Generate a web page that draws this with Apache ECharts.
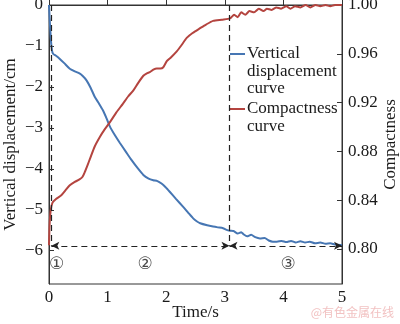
<!DOCTYPE html>
<html>
<head>
<meta charset="utf-8">
<script src="https://cdn.jsdelivr.net/npm/echarts@6/dist/echarts.min.js"></script>
<style>html,body{margin:0;padding:0;background:#fff}#c{width:400px;height:324px}</style>
</head>
<body>
<div id="c"></div>
<script>
// ---- data ----
var displacement = [[0,0],[0.01,-0.3],[0.03,-0.8],[0.05,-1.1],[0.07,-1.19],[0.12,-1.24],[0.18,-1.31],[0.26,-1.42],[0.35,-1.55],[0.44,-1.62],[0.52,-1.67],[0.58,-1.74],[0.64,-1.84],[0.71,-2.02],[0.78,-2.24],[0.85,-2.40],[0.92,-2.57],[0.98,-2.76],[1.04,-2.97],[1.12,-3.17],[1.21,-3.37],[1.31,-3.58],[1.41,-3.79],[1.51,-3.98],[1.61,-4.15],[1.70,-4.24],[1.78,-4.28],[1.85,-4.30],[1.92,-4.36],[1.99,-4.45],[2.06,-4.56],[2.17,-4.74],[2.29,-4.93],[2.38,-5.08],[2.46,-5.21],[2.52,-5.28],[2.58,-5.33],[2.70,-5.38],[2.80,-5.41],[2.88,-5.43],[2.97,-5.45],[3.03,-5.49],[3.09,-5.51],[3.15,-5.52],[3.22,-5.58],[3.28,-5.55],[3.32,-5.60],[3.38,-5.65],[3.45,-5.61],[3.52,-5.67],[3.60,-5.70],[3.68,-5.69],[3.75,-5.75],[3.82,-5.78],[3.89,-5.78],[3.97,-5.76],[4.05,-5.79],[4.13,-5.76],[4.21,-5.80],[4.29,-5.77],[4.37,-5.80],[4.45,-5.78],[4.54,-5.82],[4.63,-5.80],[4.72,-5.83],[4.80,-5.82],[4.88,-5.85],[4.97,-5.86],[5.0,-5.86]];
var compactness = [[0,0.803],[0.01,0.82],[0.03,0.832],[0.06,0.838],[0.12,0.841],[0.21,0.844],[0.28,0.848],[0.35,0.852],[0.44,0.855],[0.52,0.857],[0.57,0.859],[0.61,0.863],[0.66,0.869],[0.70,0.874],[0.78,0.884],[0.87,0.892],[0.95,0.898],[1.04,0.904],[1.15,0.912],[1.26,0.919],[1.35,0.925],[1.44,0.930],[1.52,0.936],[1.61,0.942],[1.67,0.944],[1.72,0.945],[1.78,0.947],[1.84,0.948],[1.90,0.948],[1.95,0.949],[2.01,0.954],[2.08,0.957],[2.18,0.962],[2.26,0.967],[2.35,0.973],[2.45,0.977],[2.58,0.981],[2.68,0.984],[2.80,0.987],[2.95,0.988],[3.09,0.989],[3.16,0.992],[3.22,0.990],[3.28,0.994],[3.35,0.992],[3.42,0.995],[3.50,0.994],[3.58,0.997],[3.66,0.995],[3.72,0.997],[3.80,0.996],[3.88,0.998],[3.96,0.997],[4.05,0.999],[4.12,0.997],[4.20,0.999],[4.29,0.998],[4.38,1.0],[4.46,0.998],[4.55,1.0],[4.63,0.999],[4.72,1.0],[4.80,0.999],[4.88,1.0],[4.97,1.0],[5.0,1.0]];
var xTicks = [0,1,2,3,4,5];
var leftTicks = [0,-1,-2,-3,-4,-5,-6];
var rightTicks = [0.80,0.84,0.88,0.92,0.96,1.00];
var phaseBounds = [0.04, 3.08];      // vertical dashed lines (time, s)
var baseLevel = -5.88;               // horizontal dashed line (cm)
var phaseLabels = ['①','②','③'];
var phaseLabelPos = [[0.13,-6.35],[1.64,-6.35],[4.08,-6.35]];
var seriesNames = ['Vertical displacement curve','Compactness curve'];

// ---- chart ----
var FONT = "'Liberation Serif','Times New Roman',serif";
var TXT = '#1a1a1a';
var BLUE = '#4676b3', RED = '#b4443f';
var chart = echarts.init(document.getElementById('c'), null, {renderer:'canvas'});
function minus(v){ return String(v).replace('-', '\u2212'); }
function tick(vals){ return {show:true,inside:true,length:5,lineStyle:{color:'#333'},customValues:vals}; }
var axLine = {show:true,lineStyle:{color:'#333',width:1}};
var option = {
  animation:false,
  backgroundColor:'#fff',
  grid:{left:49,right:58,top:5,bottom:40,show:true,borderColor:'#333',borderWidth:1,
    containLabel:false,outerBoundsMode:'none'},
  xAxis:{type:'value',min:0,max:5,
    name:'Time/s',nameLocation:'middle',nameGap:20,nameMoveOverlap:false,
    nameTextStyle:{fontFamily:FONT,fontSize:17,color:TXT},
    axisLine:axLine,axisTick:tick(xTicks),splitLine:{show:false},
    axisLabel:{fontFamily:FONT,fontSize:17,color:TXT,margin:5,customValues:xTicks}},
  yAxis:[
    {type:'value',min:-6.813,max:0,position:'left',
      name:'Vertical displacement/cm',nameLocation:'middle',nameGap:30,nameMoveOverlap:false,
      nameTextStyle:{fontFamily:FONT,fontSize:17,color:TXT},
      axisLine:axLine,axisTick:tick(leftTicks),splitLine:{show:false},
      axisLabel:{fontFamily:FONT,fontSize:17,color:TXT,margin:6,customValues:leftTicks,formatter:function(v){return minus(v);}}},
    {type:'value',min:0.7713,max:1.0,position:'right',
      name:'Compactness',nameLocation:'middle',nameGap:40,nameMoveOverlap:false,
      nameTextStyle:{fontFamily:FONT,fontSize:17,color:TXT},
      axisLine:axLine,axisTick:tick(rightTicks),splitLine:{show:false},
      axisLabel:{fontFamily:FONT,fontSize:17,color:TXT,margin:6,customValues:rightTicks,formatter:function(v){return v.toFixed(2);}}}
  ],
  series:[
    {name:seriesNames[0],type:'line',yAxisIndex:0,data:displacement,showSymbol:false,smooth:0.2,
      lineStyle:{color:BLUE,width:2},itemStyle:{color:BLUE},z:3,
      markLine:{silent:true,symbol:['none','none'],label:{show:false},
        lineStyle:{type:[6,4],color:'#222',width:1.2},
        data:[
          [{coord:[phaseBounds[0],0]},{coord:[phaseBounds[0],baseLevel]}],
          [{coord:[phaseBounds[1],0]},{coord:[phaseBounds[1],baseLevel]}],
          [{coord:[phaseBounds[0],baseLevel],symbol:'arrow',symbolSize:[6,8]},{coord:[phaseBounds[1],baseLevel],symbol:'arrow',symbolSize:[6,8]}],
          [{coord:[phaseBounds[1],baseLevel],symbol:'arrow',symbolSize:[6,8]},{coord:[5,baseLevel],symbol:'arrow',symbolSize:[6,8]}]
        ]}},
    {name:seriesNames[1],type:'line',yAxisIndex:1,data:compactness,showSymbol:false,smooth:0.2,
      lineStyle:{color:RED,width:2},itemStyle:{color:RED},z:3},
    {type:'scatter',yAxisIndex:0,symbolSize:0,silent:true,
      data:phaseLabelPos.map(function(p,i){return {value:p,name:phaseLabels[i]};}),
      label:{show:true,position:'inside',formatter:function(p){return p.name;},
        fontFamily:"'DejaVu Sans','Noto Sans CJK SC',sans-serif",fontSize:17,color:TXT}}
  ],
  graphic:[
    {type:'line',shape:{x1:230,y1:54,x2:245,y2:54},style:{stroke:BLUE,lineWidth:2}},
    {type:'text',left:247,top:45,style:{text:'Vertical\ndisplacement\ncurve',font:'17px '+FONT,fill:TXT,lineHeight:17.5}},
    {type:'line',shape:{x1:230,y1:109,x2:245,y2:109},style:{stroke:RED,lineWidth:2}},
    {type:'text',left:247,top:100,style:{text:'Compactness\ncurve',font:'17px '+FONT,fill:TXT,lineHeight:17.5}},
    {type:'text',right:6,top:306,style:{text:'@有色金属在线',font:"12px 'Noto Sans CJK SC',sans-serif",fill:'#f2c2c2'}}
  ]
};
chart.setOption(option);
</script>
</body>
</html>
